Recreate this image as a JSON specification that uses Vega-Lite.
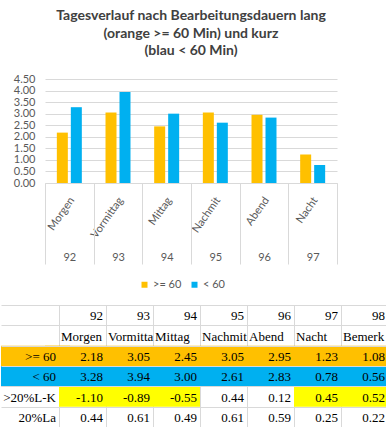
{
  "$schema": "https://vega.github.io/schema/vega-lite/v6.json",
  "padding": {"left": 0, "top": 9, "right": 0, "bottom": 0},
  "background": "white",
  "columns": 1,
  "align": "none",
  "spacing": 40,
  "config": {
    "view": {"stroke": null},
    "font": "Lato",
    "locale": {"number": {"decimal": ".", "thousands": ",", "grouping": [3], "currency": ["$", ""], "minus": "-"}}
  },
  "datasets": {
    "src": [
      {"nr": 92, "name": "Morgen", ">= 60": 2.18, "< 60": 3.28, ">20%L-K": -1.10, "20%La": 0.44},
      {"nr": 93, "name": "Vormittag", ">= 60": 3.05, "< 60": 3.94, ">20%L-K": -0.89, "20%La": 0.61},
      {"nr": 94, "name": "Mittag", ">= 60": 2.45, "< 60": 3.00, ">20%L-K": -0.55, "20%La": 0.49},
      {"nr": 95, "name": "Nachmit", ">= 60": 3.05, "< 60": 2.61, ">20%L-K": 0.44, "20%La": 0.61},
      {"nr": 96, "name": "Abend", ">= 60": 2.95, "< 60": 2.83, ">20%L-K": 0.12, "20%La": 0.59},
      {"nr": 97, "name": "Nacht", ">= 60": 1.23, "< 60": 0.78, ">20%L-K": 0.45, "20%La": 0.25},
      {"nr": 98, "name": "Bemerkung", ">= 60": 1.08, "< 60": 0.56, ">20%L-K": 0.52, "20%La": 0.22}
    ]
  },
  "concat": [
    {
      "data": {"name": "src"},
      "title": {
        "text": ["Tagesverlauf nach Bearbeitungsdauern lang", "(orange >= 60 Min) und kurz", "(blau < 60 Min)"],
        "font": "Lato", "fontSize": 14, "fontWeight": "bold", "color": "#404040",
        "lineHeight": 17.5, "anchor": "middle", "frame": "group", "offset": 15
      },
      "width": 292,
      "height": 104,
      "transform": [
        {"filter": "datum.nr <= 97"},
        {"fold": [">= 60", "< 60"], "as": ["series", "value"]}
      ],
      "encoding": {
        "y": {
          "field": "value", "type": "quantitative",
          "scale": {"domain": [0, 4.5]},
          "axis": {"title": null, "values": [0, 0.5, 1, 1.5, 2, 2.5, 3, 3.5, 4, 4.5], "format": ".2f",
                   "labelPadding": 10, "labelFontSize": 11, "labelColor": "#595959", "labelFont": "Lato",
                   "domain": false, "ticks": false, "gridColor": "#d9d9d9", "minExtent": 44, "maxExtent": 44, "labelOverlap": false}
        }
      },
      "layer": [
        {
          "mark": {"type": "bar"},
          "encoding": {
            "x": {
              "field": "name", "type": "nominal", "sort": {"field": "nr", "op": "min"},
              "scale": {"paddingInner": 0, "paddingOuter": 0},
              "axis": {"orient": "bottom", "title": null, "labelAngle": -55, "labelAlign": "right", "labelBaseline": "middle",
                       "labelPadding": 15, "labelOffset": 3, "labelFontSize": 11, "labelColor": "#595959", "labelFont": "Lato",
                       "ticks": false, "domain": false, "grid": false}
            },
            "xOffset": {
              "field": "series", "type": "nominal", "sort": [">= 60", "< 60"],
              "scale": {"domain": [">= 60", "< 60"], "paddingInner": 0.214, "paddingOuter": 0.846}
            },
            "color": {
              "field": "series", "type": "nominal",
              "scale": {"domain": [">= 60", "< 60"], "range": ["#FFC000", "#00B0F0"]},
              "legend": {"orient": "none", "legendX": 94, "legendY": 200, "direction": "horizontal", "title": null,
                         "symbolType": "square", "symbolSize": 36, "symbolStrokeWidth": 0, "padding": 0,
                         "labelFontSize": 11, "labelColor": "#595959", "labelFont": "Lato", "labelOffset": 3, "columnPadding": 7}
            }
          }
        },
        {
          "mark": {"type": "point", "opacity": 0},
          "encoding": {
            "x": {
              "field": "nr", "type": "ordinal",
              "scale": {"paddingInner": 0, "paddingOuter": 0},
              "axis": {"orient": "bottom", "title": null, "labelAngle": 0, "labelPadding": -13, "labelFontSize": 11,
                       "labelColor": "#595959", "labelFont": "Lato", "ticks": true, "tickBand": "extent", "tickSize": 81,
                       "tickColor": "#d9d9d9", "domain": true, "domainColor": "#d9d9d9", "grid": false}
            }
          }
        }
      ],
      "resolve": {"scale": {"x": "independent", "xOffset": "independent"}, "axis": {"x": "independent"}}
    },
    {
      "data": {"name": "src"},
      "width": 342,
      "height": 122,
      "layer": [
        {
          "transform": [{"fold": [">= 60", "< 60"], "as": ["key", "value"]}, {"filter": "datum.nr == 92"}],
          "mark": {"type": "rect"},
          "encoding": {
            "y": {"field": "key", "type": "nominal",
                  "scale": {"domain": ["nr", "name", ">= 60", "< 60", ">20%L-K", "20%La"], "paddingInner": 0, "paddingOuter": 0},
                  "axis": {"grid": true, "tickBand": "extent", "labels": false, "ticks": false, "domain": false, "title": null, "gridColor": "#d9d9d9", "minExtent": 0, "maxExtent": 0}},
            "color": {"condition": {"test": "datum.key == '>= 60'", "value": "#FFC000"}, "value": "#00B0F0"}
          }
        },
        {
          "transform": [{"fold": [">= 60", "< 60"], "as": ["key", "value"]}, {"filter": "datum.nr == 92"}],
          "mark": {"type": "bar", "width": {"band": 1.468}},
          "encoding": {
            "x": {"datum": "lbl", "type": "ordinal",
                  "scale": {"domain": ["lbl", 92, 93, 94, 95, 96, 97, 98], "range": [-44, 354], "paddingInner": 0, "paddingOuter": 0.234},
                  "axis": {"orient": "top", "grid": true, "tickBand": "extent", "labels": false, "ticks": false, "domain": false, "title": null, "values": [92, 93, 94, 95, 96, 97, 98], "gridColor": "#d9d9d9"}},
            "y": {"field": "key", "type": "nominal",
                  "scale": {"domain": ["nr", "name", ">= 60", "< 60", ">20%L-K", "20%La"], "paddingInner": 0, "paddingOuter": 0},
                  "axis": {"grid": true, "tickBand": "extent", "labels": false, "ticks": false, "domain": false, "title": null, "gridColor": "#d9d9d9", "minExtent": 0, "maxExtent": 0}},
            "color": {"condition": {"test": "datum.key == '>= 60'", "value": "#FFC000"}, "value": "#00B0F0"}
          }
        },
        {
          "transform": [{"fold": [">= 60", "< 60", ">20%L-K", "20%La"], "as": ["key", "value"]},
                        {"filter": "datum.key == '>20%L-K' && abs(datum['>20%L-K']) > datum['20%La']"}],
          "mark": {"type": "rect", "fill": "#FFFF00"},
          "encoding": {
            "x": {"field": "nr", "type": "ordinal",
                  "scale": {"domain": ["lbl", 92, 93, 94, 95, 96, 97, 98], "range": [-44, 354], "paddingInner": 0, "paddingOuter": 0.234},
                  "axis": {"orient": "top", "grid": true, "tickBand": "extent", "labels": false, "ticks": false, "domain": false, "title": null, "values": [92, 93, 94, 95, 96, 97, 98], "gridColor": "#d9d9d9"}},
            "y": {"field": "key", "type": "nominal",
                  "scale": {"domain": ["nr", "name", ">= 60", "< 60", ">20%L-K", "20%La"], "paddingInner": 0, "paddingOuter": 0},
                  "axis": {"grid": true, "tickBand": "extent", "labels": false, "ticks": false, "domain": false, "title": null, "gridColor": "#d9d9d9", "minExtent": 0, "maxExtent": 0}}
          }
        },
        {
          "transform": [{"fold": [">= 60", "< 60", ">20%L-K", "20%La"], "as": ["key", "value"]}],
          "mark": {"type": "text", "align": "right", "baseline": "middle", "dx": -3, "dy": 1, "font": "Liberation Serif", "fontSize": 13, "color": "#000000"},
          "encoding": {
            "x": {"field": "nr", "type": "ordinal", "bandPosition": 1,
                  "scale": {"domain": ["lbl", 92, 93, 94, 95, 96, 97, 98], "range": [-44, 354], "paddingInner": 0, "paddingOuter": 0.234},
                  "axis": {"orient": "top", "grid": true, "tickBand": "extent", "labels": false, "ticks": false, "domain": false, "title": null, "values": [92, 93, 94, 95, 96, 97, 98], "gridColor": "#d9d9d9"}},
            "y": {"field": "key", "type": "nominal",
                  "scale": {"domain": ["nr", "name", ">= 60", "< 60", ">20%L-K", "20%La"], "paddingInner": 0, "paddingOuter": 0},
                  "axis": {"grid": true, "tickBand": "extent", "labels": false, "ticks": false, "domain": false, "title": null, "gridColor": "#d9d9d9", "minExtent": 0, "maxExtent": 0}},
            "text": {"field": "value", "type": "quantitative", "format": ".2f"}
          }
        },
        {
          "transform": [{"fold": [">= 60", "< 60", ">20%L-K", "20%La"], "as": ["key", "value"]}, {"filter": "datum.nr == 92"}],
          "mark": {"type": "text", "align": "right", "baseline": "middle", "dx": -3, "dy": 1, "font": "Liberation Serif", "fontSize": 13, "color": "#000000"},
          "encoding": {
            "x": {"datum": "lbl", "type": "ordinal", "bandPosition": 1,
                  "scale": {"domain": ["lbl", 92, 93, 94, 95, 96, 97, 98], "range": [-44, 354], "paddingInner": 0, "paddingOuter": 0.234},
                  "axis": {"orient": "top", "grid": true, "tickBand": "extent", "labels": false, "ticks": false, "domain": false, "title": null, "values": [92, 93, 94, 95, 96, 97, 98], "gridColor": "#d9d9d9"}},
            "y": {"field": "key", "type": "nominal",
                  "scale": {"domain": ["nr", "name", ">= 60", "< 60", ">20%L-K", "20%La"], "paddingInner": 0, "paddingOuter": 0},
                  "axis": {"grid": true, "tickBand": "extent", "labels": false, "ticks": false, "domain": false, "title": null, "gridColor": "#d9d9d9", "minExtent": 0, "maxExtent": 0}},
            "text": {"field": "key", "type": "nominal"}
          }
        },
        {
          "mark": {"type": "text", "align": "right", "baseline": "middle", "dx": -3, "dy": 1, "font": "Liberation Serif", "fontSize": 13, "color": "#000000"},
          "encoding": {
            "x": {"field": "nr", "type": "ordinal", "bandPosition": 1,
                  "scale": {"domain": ["lbl", 92, 93, 94, 95, 96, 97, 98], "range": [-44, 354], "paddingInner": 0, "paddingOuter": 0.234},
                  "axis": {"orient": "top", "grid": true, "tickBand": "extent", "labels": false, "ticks": false, "domain": false, "title": null, "values": [92, 93, 94, 95, 96, 97, 98], "gridColor": "#d9d9d9"}},
            "y": {"datum": "nr", "type": "nominal",
                  "scale": {"domain": ["nr", "name", ">= 60", "< 60", ">20%L-K", "20%La"], "paddingInner": 0, "paddingOuter": 0},
                  "axis": {"grid": true, "tickBand": "extent", "labels": false, "ticks": false, "domain": false, "title": null, "gridColor": "#d9d9d9", "minExtent": 0, "maxExtent": 0}},
            "text": {"field": "nr", "type": "ordinal"}
          }
        },
        {
          "mark": {"type": "text", "align": "left", "baseline": "middle", "dx": 2, "dy": 1, "font": "Liberation Serif", "fontSize": 13, "color": "#000000", "limit": 47, "ellipsis": "\u200b"},
          "encoding": {
            "x": {"field": "nr", "type": "ordinal", "bandPosition": 0,
                  "scale": {"domain": ["lbl", 92, 93, 94, 95, 96, 97, 98], "range": [-44, 354], "paddingInner": 0, "paddingOuter": 0.234},
                  "axis": {"orient": "top", "grid": true, "tickBand": "extent", "labels": false, "ticks": false, "domain": false, "title": null, "values": [92, 93, 94, 95, 96, 97, 98], "gridColor": "#d9d9d9"}},
            "y": {"datum": "name", "type": "nominal",
                  "scale": {"domain": ["nr", "name", ">= 60", "< 60", ">20%L-K", "20%La"], "paddingInner": 0, "paddingOuter": 0},
                  "axis": {"grid": true, "tickBand": "extent", "labels": false, "ticks": false, "domain": false, "title": null, "gridColor": "#d9d9d9", "minExtent": 0, "maxExtent": 0}},
            "text": {"field": "name", "type": "nominal"}
          }
        }
      ]
    }
  ]
}
